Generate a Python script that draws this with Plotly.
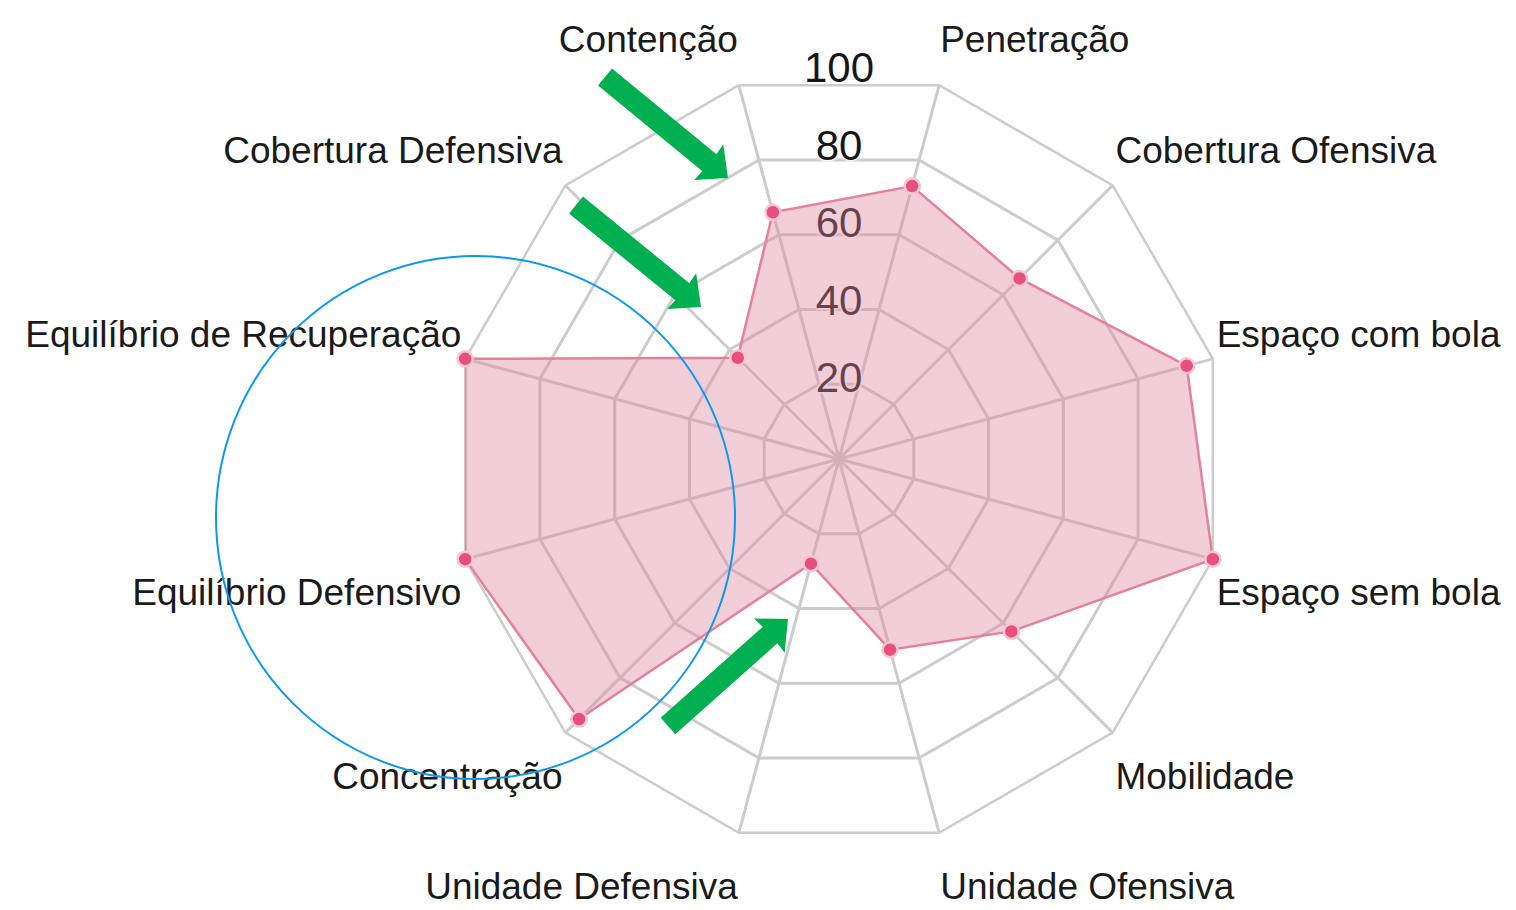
import math
import plotly.graph_objects as go

W, H = 1516, 910

categories = [
    "Penetração", "Cobertura Ofensiva", "Espaço com bola", "Espaço sem bola",
    "Mobilidade", "Unidade Ofensiva", "Unidade Defensiva", "Concentração",
    "Equilíbrio Defensivo", "Equilíbrio de Recuperação", "Cobertura Defensiva", "Contenção",
]
values = [73, 66, 93, 100, 63, 51, 28, 95, 100, 100, 37, 66]
radial_ticks = [20, 40, 60, 80, 100]
radial_tick_labels = ["20", "40", "60", "80", "100"]

# layout geometry (pixels)
CX, CY, R = 839, 459, 387
RMAX = 100
R2MAX = 110           # overlay subplot range (room for labels outside the grid)
R2 = R * R2MAX / RMAX
dom = lambda rad: (dict(x=[(CX - rad) / W, (CX + rad) / W],
                        y=[1 - (CY + rad) / H, 1 - (CY - rad) / H]))

GRID = "#cccccc"
FONT = "Liberation Sans, Arial, Helvetica, sans-serif"
ROT = 75  # angle of first category (degrees, counterclockwise from east)

fig = go.Figure()

# layer 1: polygon grid
fig.add_trace(go.Scatterpolar(
    r=[0] * len(categories), theta=categories, mode="markers",
    marker=dict(size=1, opacity=0), hoverinfo="skip", showlegend=False,
    subplot="polar",
))

# layer 2: radial tick labels + category labels (numeric angular axis overlay)
fig.add_trace(go.Scatterpolar(
    r=radial_ticks, theta=[90] * len(radial_ticks), mode="text",
    text=radial_tick_labels, textposition="middle center",
    textfont=dict(family=FONT, size=42, color="#161616",
                  shadow="0 0 3px #fff, 0 0 3px #fff, 0 0 3px #fff, 0 0 3px #fff, 0 0 3px #fff"),
    hoverinfo="skip", showlegend=False, subplot="polar2", cliponaxis=False,
))

# label anchor points (pixel offsets from centre) -> polar coords of the overlay
n = len(categories)
lab_theta, lab_r, lab_pos = [], [], []
for i in range(n):
    ang = ROT - i * 360 / n
    s, c = math.sin(math.radians(ang)), math.cos(math.radians(ang))
    dx = 391 * c
    dy = (392 + 20 * abs(s)) * abs(s) + (15 if s < 0 else 0)
    dy = dy if s > 0 else -dy
    lab_theta.append(math.degrees(math.atan2(dy, dx)))
    lab_r.append(math.hypot(dx, dy) / R * RMAX)
    lab_pos.append(("top" if s > 0 else "bottom") + " " + ("right" if c > 0 else "left"))
fig.add_trace(go.Scatterpolar(
    r=lab_r, theta=lab_theta, mode="text", text=categories, textposition=lab_pos,
    textfont=dict(family=FONT, size=37, color="#1a1a1a"),
    hoverinfo="skip", showlegend=False, subplot="polar2", cliponaxis=False,
))

# layer 3: data
fig.add_trace(go.Scatterpolar(
    r=values + values[:1], theta=categories + categories[:1],
    mode="lines+markers", fill="toself",
    fillcolor="rgba(222,132,157,0.40)",
    line=dict(color="#e3809b", width=2.5),
    marker=dict(size=15, color="#e6507c", line=dict(color="#f6c6d3", width=2.5)),
    showlegend=False, subplot="polar3",
))

fig.update_layout(
    width=W, height=H,
    margin=dict(l=0, r=0, t=0, b=0),
    paper_bgcolor="white", plot_bgcolor="white",
    showlegend=False,
    polar=dict(
        domain=dom(R),
        bgcolor="rgba(0,0,0,0)",
        gridshape="linear",
        radialaxis=dict(range=[0, RMAX], tickvals=radial_ticks, showticklabels=False,
                        ticks="", showline=False, gridcolor=GRID, gridwidth=2.5,
                        layer="below traces"),
        angularaxis=dict(type="category", categoryarray=categories, categoryorder="array",
                         rotation=ROT, direction="clockwise",
                         showline=True, linecolor=GRID, linewidth=2.5,
                         showgrid=True, gridcolor=GRID, gridwidth=2.5, ticks="",
                         showticklabels=False, layer="below traces"),
    ),
    polar2=dict(
        domain=dom(R2),
        bgcolor="rgba(0,0,0,0)",
        radialaxis=dict(range=[0, R2MAX], visible=False),
        angularaxis=dict(visible=False, rotation=0, direction="counterclockwise"),
    ),
    polar3=dict(
        domain=dom(R),
        bgcolor="rgba(0,0,0,0)",
        gridshape="linear",
        radialaxis=dict(range=[0, RMAX], visible=False),
        angularaxis=dict(type="category", categoryarray=categories, categoryorder="array",
                         rotation=ROT, direction="clockwise", visible=False),
    ),
)

def px(x, y):
    return x / W, 1 - y / H

# highlight circle
x0, y0 = px(216, 256)
x1, y1 = px(735, 779)
fig.add_shape(type="circle", xref="paper", yref="paper", x0=x0, y0=y1, x1=x1, y1=y0,
              line=dict(color="#0a98f0", width=2), layer="above")

# green block arrows: (tip, tail) in pixels
arrows = [((728, 178), (605, 77)), ((701, 307), (576, 205)), ((788, 619), (668, 726))]
HEAD_LEN, HEAD_HALF, SHAFT_HALF = 25, 23, 11
for (tx, ty), (sx, sy) in arrows:
    L = math.hypot(tx - sx, ty - sy)
    ux, uy = (tx - sx) / L, (ty - sy) / L
    nx, ny = -uy, ux
    bx, by = tx - HEAD_LEN * ux, ty - HEAD_LEN * uy
    pts = [
        (sx + SHAFT_HALF * nx, sy + SHAFT_HALF * ny),
        (bx + 1 * ux + SHAFT_HALF * nx, by + 1 * uy + SHAFT_HALF * ny),
        (bx + HEAD_HALF * nx, by + HEAD_HALF * ny),
        (tx, ty),
        (bx - HEAD_HALF * nx, by - HEAD_HALF * ny),
        (bx + 1 * ux - SHAFT_HALF * nx, by + 1 * uy - SHAFT_HALF * ny),
        (sx - SHAFT_HALF * nx, sy - SHAFT_HALF * ny),
    ]
    path = "M " + " L ".join("%.5f,%.5f" % px(x, y) for x, y in pts) + " Z"
    fig.add_shape(type="path", xref="paper", yref="paper", path=path,
                  fillcolor="#00b050", line=dict(width=0), layer="above")

fig.write_html(
    "out.html",
    config={"displayModeBar": False},
    post_script="document.body.style.margin='0';document.body.style.overflow='hidden';",
)
